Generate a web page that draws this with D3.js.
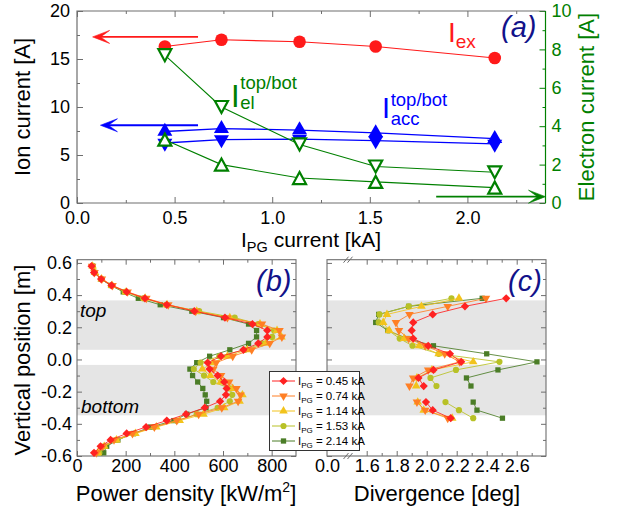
<!DOCTYPE html>
<html><head><meta charset="utf-8">
<script src="https://cdn.jsdelivr.net/npm/d3@7"></script>
<style>body{margin:0;background:#fff} svg{display:block} text{font-family:"Liberation Sans",Arial,sans-serif}</style>
</head><body><svg id="c" width="622" height="512"></svg>
<script>
// ---------- data: panel (a) ----------
const xPG      = [0.45, 0.74, 1.14, 1.53, 2.14];
const ionEx    = [16.3, 17.0, 16.8, 16.3, 15.1];
const accTop   = [7.45, 7.75, 7.6, 7.3, 6.7];
const accBot   = [6.25, 6.6, 6.65, 6.5, 6.15];
const elTop    = [7.7, 5.0, 3.05, 1.9, 1.6];
const elBot    = [3.3, 2.0, 1.3, 1.1, 0.8];
const xTicksA  = [0, 0.5, 1.0, 1.5, 2.0];
const yTicksA  = [0, 5, 10, 15, 20];
const yTicksE  = [0, 2, 4, 6, 8, 10];

// ---------- data: panels (b),(c) ----------
const seriesLabels = ["0.45", "0.74", "1.14", "1.53", "2.14"];
const seriesColors = ["#ff2222", "#ff7f24", "#f2c31c", "#b8c126", "#4b7d27"];
const yB = [0.58,0.54,0.50,0.46,0.42,0.38,0.34,0.30,0.26,0.22,0.18,0.14,0.10,0.06,0.02,-0.02,-0.06,-0.10,-0.14,-0.18,-0.22,-0.26,-0.30,-0.34,-0.38,-0.42,-0.46,-0.50,-0.54,-0.58];
const pw045 = [60,70,99,142,204,279,369,482,608,721,782,782,745,684,592,537,545,578,605,615,612,588,525,448,369,284,204,138,97,70];
const pw074 = [62,72,102,146,208,285,375,488,618,760,832,842,792,718,640,572,560,592,625,655,672,662,595,500,410,318,228,152,106,80];
const pw114 = [64,74,101,144,202,280,370,492,628,752,822,840,775,700,618,560,515,548,590,640,680,668,605,520,422,326,240,162,112,86];
const pw153 = [64,74,100,141,196,272,366,502,648,745,810,802,760,690,585,508,480,522,560,628,638,628,578,492,410,316,236,162,112,92];
const pw214 = [64,74,98,138,190,252,342,472,602,705,738,738,705,628,545,492,464,475,496,517,527,533,530,451,398,302,232,168,122,110];
const yC = [0.38,0.33,0.28,0.23,0.18,0.13,0.085,0.035,-0.015,-0.065,-0.115,-0.165,-0.215,-0.265,-0.315,-0.365];
const dv045 = [2.53,2.255,2.04,1.91,1.90,1.91,2.01,2.155,2.23,2.045,1.945,1.98,null,1.995,2.04,2.16];
const dv074 = [2.395,2.14,1.885,1.795,1.815,1.88,1.99,2.12,2.22,2.01,1.91,1.885,null,1.935,1.99,2.14];
const dv114 = [2.215,1.965,1.735,1.71,1.75,1.85,1.95,2.08,2.31,2.035,1.935,1.93,null,1.94,1.98,2.17];
const dv153 = [2.165,1.88,1.685,1.68,1.745,1.82,1.905,2.08,2.485,2.195,2.025,2.065,null,2.125,2.215,2.31];
const dv214 = [2.37,1.88,1.68,1.66,1.74,1.87,2.045,2.40,2.735,2.475,2.265,2.295,null,2.31,2.335,2.505];
const bandTop = [0.06, 0.367];
const bandBot = [-0.347, -0.034];
const xTicksB = [0, 200, 400, 600, 800];
const yTicksV = [-0.6, -0.4, -0.2, 0, 0.2, 0.4, 0.6];
const xTicksC = [1.6, 1.8, 2.0, 2.2, 2.4, 2.6];

const powerSeries = [pw045, pw074, pw114, pw153, pw214];
const divSeries = [dv045, dv074, dv114, dv153, dv214];

const svg = d3.select("#c");
const AX = "#6e6e6e";
const RED = "#ff1a1a", BLUE = "#0000ff", GREEN = "#008000", NAVY = "#12128a";

function clean(g, color, fs, tcol) {
  g.select(".domain").remove();
  g.selectAll("line").attr("stroke", color);
  g.selectAll("text").attr("font-size", fs).attr("fill", tcol || "#000");
}
function range(a, b, s) { const r = []; for (let v = a; v <= b + 1e-9; v += s) r.push(+v.toFixed(4)); return r; }

// ================= panel (a) =================
const xA = d3.scaleLinear().domain([0, 2.4]).range([77, 545.5]);
const yA = d3.scaleLinear().domain([0, 20]).range([203, 11]);
const yE = d3.scaleLinear().domain([0, 10]).range([203, 11]);

const gA = svg.append("g");
gA.append("g").attr("transform", "translate(0,203)")
  .call(d3.axisBottom(xA).tickValues(xTicksA).tickSizeInner(-6).tickSizeOuter(0).tickPadding(8).tickFormat(d => d.toFixed(1)))
  .call(g => clean(g, AX, 18));
gA.append("g").attr("transform", "translate(0,203)")
  .call(d3.axisBottom(xA).tickValues(range(0.25, 2.25, 0.5)).tickSizeInner(-3).tickSizeOuter(0).tickFormat(""))
  .call(g => clean(g, AX, 18));
gA.append("g").attr("transform", "translate(0,11)")
  .call(d3.axisTop(xA).tickValues(xTicksA).tickSizeInner(-6).tickSizeOuter(0).tickFormat(""))
  .call(g => clean(g, AX, 18));
gA.append("g").attr("transform", "translate(0,11)")
  .call(d3.axisTop(xA).tickValues(range(0.25, 2.25, 0.5)).tickSizeInner(-3).tickSizeOuter(0).tickFormat(""))
  .call(g => clean(g, AX, 18));
gA.append("g").attr("transform", "translate(77,0)")
  .call(d3.axisLeft(yA).tickValues(yTicksA).tickSizeInner(-6).tickSizeOuter(0).tickPadding(7).tickFormat(d3.format("d")))
  .call(g => clean(g, AX, 18));
gA.append("g").attr("transform", "translate(77,0)")
  .call(d3.axisLeft(yA).tickValues([2.5, 7.5, 12.5, 17.5]).tickSizeInner(-3).tickSizeOuter(0).tickFormat(""))
  .call(g => clean(g, AX, 18));
gA.append("g").attr("transform", "translate(545.5,0)")
  .call(d3.axisRight(yE).tickValues(yTicksE).tickSizeInner(-6).tickSizeOuter(0).tickPadding(6).tickFormat(d3.format("d")))
  .call(g => clean(g, GREEN, 18, GREEN));
gA.append("g").attr("transform", "translate(545.5,0)")
  .call(d3.axisRight(yE).tickValues([1, 3, 5, 7, 9]).tickSizeInner(-3).tickSizeOuter(0).tickFormat(""))
  .call(g => clean(g, GREEN, 18, GREEN));
gA.append("path").attr("d", `M${xA(2.4)},${yA(20)}H${xA(0)}V${yA(0)}H${xA(2.4)}`).attr("fill", "none").attr("stroke", AX).attr("stroke-width", 1.2);
gA.append("line").attr("x1", xA(2.4)).attr("x2", xA(2.4)).attr("y1", yA(20)).attr("y2", yA(0)).attr("stroke", GREEN).attr("stroke-width", 1.2);

const ptsA = (ys, sc) => xPG.map((x, i) => [xA(x), sc(ys[i])]);
const lineA = d3.line();
function drawLine(g, pts, col, w) { g.append("path").attr("d", lineA(pts)).attr("fill", "none").attr("stroke", col).attr("stroke-width", w || 1.1); }
drawLine(gA, ptsA(ionEx, yA), RED);
drawLine(gA, ptsA(accTop, yA), BLUE, 1.3);
drawLine(gA, ptsA(accBot, yA), BLUE, 1.3);
drawLine(gA, ptsA(elTop, yE), GREEN);
drawLine(gA, ptsA(elBot, yE), GREEN);

const triC = (w, h, up) => up ? `M0,${-2*h/3}L${w/2},${h/3}L${-w/2},${h/3}Z` : `M0,${2*h/3}L${w/2},${-h/3}L${-w/2},${-h/3}Z`;
const triB = (w, h, up) => up ? `M0,${-h/2}L${w/2},${h/2}L${-w/2},${h/2}Z` : `M0,${h/2}L${w/2},${-h/2}L${-w/2},${-h/2}Z`;
ptsA(ionEx, yA).forEach(p => gA.append("circle").attr("cx", p[0]).attr("cy", p[1]).attr("r", 6.3).attr("fill", RED));
ptsA(accTop, yA).forEach(p => gA.append("path").attr("d", triC(15, 13, true)).attr("transform", `translate(${p})`).attr("fill", BLUE));
ptsA(accBot, yA).forEach(p => gA.append("path").attr("d", triC(15, 13, false)).attr("transform", `translate(${p})`).attr("fill", BLUE));
ptsA(elTop, yE).forEach(p => gA.append("path").attr("d", triB(13, 12, false)).attr("transform", `translate(${p})`).attr("fill", "#fff").attr("stroke", GREEN).attr("stroke-width", 2.2));
ptsA(elBot, yE).forEach(p => gA.append("path").attr("d", triB(13, 12, true)).attr("transform", `translate(${p})`).attr("fill", "#fff").attr("stroke", GREEN).attr("stroke-width", 2.2));

const arrows = [
  { from: [0.62, 17.3], to: [0.08, 17.3], sc: yA, col: RED },
  { from: [0.62, 8.1], to: [0.12, 8.1], sc: yA, col: BLUE },
  { from: [1.84, 0.33], to: [2.4, 0.33], sc: yE, col: GREEN }
];
arrows.forEach(a => {
  const x1 = xA(a.from[0]), x2 = xA(a.to[0]), y = a.sc(a.from[1]);
  const d = x2 < x1 ? 1 : -1;
  gA.append("line").attr("x1", x1).attr("x2", x2 + d * 6).attr("y1", y).attr("y2", y).attr("stroke", a.col).attr("stroke-width", 1.8);
  gA.append("path").attr("d", `M${x2},${y}L${x2 + d*17},${y - 6.5}L${x2 + d*8},${y}L${x2 + d*17},${y + 6.5}Z`)
    .attr("fill", a.col).attr("stroke", a.col).attr("stroke-width", 0.6);
});

gA.append("text").attr("x", 448).attr("y", 42).attr("fill", RED).attr("font-size", 28).text("I")
  .append("tspan").attr("font-size", 19).attr("dy", 6).text("ex");
function supsub(x, y, col, sup, sub, supDy, subDy, fsI) {
  gA.append("text").attr("x", x).attr("y", y).attr("fill", col).attr("font-size", fsI).text("I");
  gA.append("text").attr("x", x + fsI * 0.3).attr("y", y + supDy).attr("fill", col).attr("font-size", 18.5).text(sup);
  gA.append("text").attr("x", x + fsI * 0.3).attr("y", y + subDy).attr("fill", col).attr("font-size", 18.5).text(sub);
}
supsub(231, 107, GREEN, "top/bot", "el", -18, 2, 31);
supsub(382, 118, BLUE, "top/bot", "acc", -12, 7, 29);
gA.append("text").attr("x", 501).attr("y", 37).attr("fill", NAVY).attr("font-size", 29).attr("font-style", "italic").text("(a)");

svg.append("text").attr("transform", "translate(30,107) rotate(-90)").attr("text-anchor", "middle").attr("font-size", 22).text("Ion current [A]");
svg.append("text").attr("transform", "translate(594,107) rotate(-90)").attr("text-anchor", "middle").attr("font-size", 22).attr("fill", GREEN).text("Electron current [A]");
const xl = svg.append("text").attr("x", 311).attr("y", 247).attr("text-anchor", "middle").attr("font-size", 21);
xl.append("tspan").text("I");
xl.append("tspan").attr("font-size", 14.5).attr("dy", 5).text("PG");
xl.append("tspan").attr("dy", -5).text(" current [kA]");

// ================= panels (b),(c) =================
const yV = d3.scaleLinear().domain([-0.6, 0.62]).range([456, 259.7]);
const xB = d3.scaleLinear().domain([0, 900]).range([77, 296]);
const xC = d3.scaleLinear().domain([1.5, 2.8]).range([351.7, 546.7]);
const xC0 = d3.scaleLinear().domain([0, 0.1]).range([327, 342]);
const boxB = [77, 296], boxC = [327, 546];

function bands(g, x0, x1) {
  [bandTop, bandBot].forEach(b => g.append("rect").attr("x", x0).attr("width", x1 - x0)
    .attr("y", yV(b[1])).attr("height", yV(b[0]) - yV(b[1])).attr("fill", "#e5e5e5"));
}
function vTicks(g, x0, x1, labels) {
  const L = g.append("g").attr("transform", `translate(${x0},0)`)
    .call(d3.axisLeft(yV).tickValues(yTicksV).tickSizeInner(-5).tickSizeOuter(0).tickPadding(5).tickFormat(labels ? (d => d.toFixed(1)) : ""));
  clean(L, AX, 18);
  g.append("g").attr("transform", `translate(${x0},0)`)
    .call(d3.axisLeft(yV).tickValues([-0.5, -0.3, -0.1, 0.1, 0.3, 0.5]).tickSizeInner(-3).tickSizeOuter(0).tickFormat(""))
    .call(s => clean(s, AX, 18));
  g.append("g").attr("transform", `translate(${x1},0)`)
    .call(d3.axisRight(yV).tickValues(yTicksV).tickSizeInner(-5).tickSizeOuter(0).tickFormat(""))
    .call(s => clean(s, AX, 18));
  g.append("g").attr("transform", `translate(${x1},0)`)
    .call(d3.axisRight(yV).tickValues([-0.5, -0.3, -0.1, 0.1, 0.3, 0.5]).tickSizeInner(-3).tickSizeOuter(0).tickFormat(""))
    .call(s => clean(s, AX, 18));
}
function frame(g, x0, x1) {
  g.append("rect").attr("x", x0).attr("y", yV(0.62)).attr("width", x1 - x0).attr("height", yV(-0.6) - yV(0.62))
    .attr("fill", "none").attr("stroke", AX).attr("stroke-width", 1.1);
}
const symDiamond = { draw(ctx, size) { const r = Math.sqrt(size / 2); ctx.moveTo(0, -r); ctx.lineTo(r, 0); ctx.lineTo(0, r); ctx.lineTo(-r, 0); ctx.closePath(); } };
const symDown = { draw(ctx, size) { const s = Math.sqrt(size * 4 / Math.sqrt(3)), h = s * Math.sqrt(3) / 2; ctx.moveTo(0, h * 2 / 3); ctx.lineTo(s / 2, -h / 3); ctx.lineTo(-s / 2, -h / 3); ctx.closePath(); } };
const symUp = { draw(ctx, size) { const s = Math.sqrt(size * 4 / Math.sqrt(3)), h = s * Math.sqrt(3) / 2; ctx.moveTo(0, -h * 2 / 3); ctx.lineTo(s / 2, h / 3); ctx.lineTo(-s / 2, h / 3); ctx.closePath(); } };
const symbols = [
  d3.symbol(symDiamond, 34), d3.symbol(symDown, 32), d3.symbol(symUp, 32), d3.symbol(d3.symbolCircle, 30), d3.symbol(d3.symbolSquare, 28)
];

// ---- panel b ----
const gB = svg.append("g");
bands(gB, boxB[0], boxB[1]);
gB.append("g").attr("transform", "translate(0,456)")
  .call(d3.axisBottom(xB).tickValues(xTicksB).tickSizeInner(-5).tickSizeOuter(0).tickPadding(3).tickFormat(d3.format("d")))
  .call(g => clean(g, AX, 18));
gB.append("g").attr("transform", "translate(0,456)")
  .call(d3.axisBottom(xB).tickValues([100, 300, 500, 700]).tickSizeInner(-3).tickSizeOuter(0).tickFormat(""))
  .call(g => clean(g, AX, 18));
gB.append("g").attr("transform", `translate(0,${yV(0.62)})`)
  .call(d3.axisTop(xB).tickValues(xTicksB).tickSizeInner(-5).tickSizeOuter(0).tickFormat(""))
  .call(g => clean(g, AX, 18));
gB.append("g").attr("transform", `translate(0,${yV(0.62)})`)
  .call(d3.axisTop(xB).tickValues([100, 300, 500, 700]).tickSizeInner(-3).tickSizeOuter(0).tickFormat(""))
  .call(g => clean(g, AX, 18));
vTicks(gB, boxB[0], boxB[1], true);
frame(gB, boxB[0], boxB[1]);
gB.append("text").attr("x", 80).attr("y", 317).attr("font-size", 19).attr("font-style", "italic").text("top");
gB.append("text").attr("x", 81).attr("y", 413).attr("font-size", 19).attr("font-style", "italic").text("bottom");
const lineB = d3.line().defined(d => d[0] != null);
[4, 3, 2, 1, 0].forEach(k => {
  const pts = yB.map((y, i) => [xB(powerSeries[k][i]), yV(y)]);
  gB.append("path").attr("d", lineB(pts)).attr("fill", "none").attr("stroke", seriesColors[k]).attr("stroke-opacity", 0.85).attr("stroke-width", 1);
  pts.forEach(p => gB.append("path").attr("d", symbols[k]()).attr("transform", `translate(${p})`).attr("fill", seriesColors[k]));
});
gB.append("text").attr("x", 256).attr("y", 291).attr("fill", NAVY).attr("font-size", 29).attr("font-style", "italic").text("(b)");

// ---- panel c ----
const gC = svg.append("g");
bands(gC, boxC[0], boxC[1]);
gC.append("g").attr("transform", "translate(0,456)")
  .call(d3.axisBottom(xC).tickValues(xTicksC).tickSizeInner(-5).tickSizeOuter(0).tickPadding(3).tickFormat(d => d.toFixed(1)))
  .call(g => clean(g, AX, 18));
gC.append("g").attr("transform", "translate(0,456)")
  .call(d3.axisBottom(xC0).tickValues([0]).tickSizeInner(0).tickSizeOuter(0).tickPadding(3).tickFormat(d => d.toFixed(1)))
  .call(g => clean(g, AX, 18));
gC.append("g").attr("transform", "translate(0,456)")
  .call(d3.axisBottom(xC).tickValues([1.7, 1.9, 2.1, 2.3, 2.5, 2.7]).tickSizeInner(-3).tickSizeOuter(0).tickFormat(""))
  .call(g => clean(g, AX, 18));
gC.append("g").attr("transform", `translate(0,${yV(0.62)})`)
  .call(d3.axisTop(xC).tickValues(xTicksC).tickSizeInner(-5).tickSizeOuter(0).tickFormat(""))
  .call(g => clean(g, AX, 18));
gC.append("g").attr("transform", `translate(0,${yV(0.62)})`)
  .call(d3.axisTop(xC).tickValues([1.7, 1.9, 2.1, 2.3, 2.5, 2.7]).tickSizeInner(-3).tickSizeOuter(0).tickFormat(""))
  .call(g => clean(g, AX, 18));
vTicks(gC, boxC[0], boxC[1], false);
frame(gC, boxC[0], boxC[1]);
[yV(0.62), yV(-0.6)].forEach(y => {
  [-2, 2].forEach(dx => gC.append("line").attr("x1", 348 + dx - 2.5).attr("x2", 348 + dx + 2.5).attr("y1", y + 3).attr("y2", y - 3).attr("stroke", AX).attr("stroke-width", 1));
});
[4, 3, 2, 1, 0].forEach(k => {
  const pts = yC.map((y, i) => [divSeries[k][i] == null ? null : xC(divSeries[k][i]), yV(y)]);
  gC.append("path").attr("d", lineB(pts)).attr("fill", "none").attr("stroke", seriesColors[k]).attr("stroke-opacity", 0.85).attr("stroke-width", 1);
  pts.filter(p => p[0] != null).forEach(p => gC.append("path").attr("d", symbols[k]()).attr("transform", `translate(${p})`).attr("fill", seriesColors[k]));
});
gC.append("text").attr("x", 508).attr("y", 291).attr("fill", NAVY).attr("font-size", 29).attr("font-style", "italic").text("(c)");

// ---- legend ----
const gL = svg.append("g");
gL.append("rect").attr("x", 269.5).attr("y", 371.5).attr("width", 90).attr("height", 79).attr("fill", "#fff").attr("stroke", "#333").attr("stroke-width", 1);
seriesLabels.forEach((lab, k) => {
  const y = 381 + k * 15;
  gL.append("line").attr("x1", 272).attr("x2", 295).attr("y1", y).attr("y2", y).attr("stroke", seriesColors[k]).attr("stroke-width", 1);
  gL.append("path").attr("d", symbols[k]()).attr("transform", `translate(283.5,${y})`).attr("fill", seriesColors[k]);
  const t = gL.append("text").attr("x", 298).attr("y", y + 4).attr("font-size", 11.5);
  t.append("tspan").text("I");
  t.append("tspan").attr("font-size", 8).attr("dy", 3).text("PG");
  t.append("tspan").attr("dy", -3).text(` = ${lab} kA`);
});

// ---- axis titles b,c ----
svg.append("text").attr("transform", "translate(30,360) rotate(-90)").attr("text-anchor", "middle").attr("font-size", 22).text("Vertical position [m]");
const pt = svg.append("text").attr("x", 186).attr("y", 501).attr("text-anchor", "middle").attr("font-size", 22);
pt.append("tspan").text("Power density [kW/m");
pt.append("tspan").attr("font-size", 14).attr("dy", -9).text("2");
pt.append("tspan").attr("dy", 9).text("]");
svg.append("text").attr("x", 437).attr("y", 501).attr("text-anchor", "middle").attr("font-size", 22).text("Divergence [deg]");
</script></body></html>
